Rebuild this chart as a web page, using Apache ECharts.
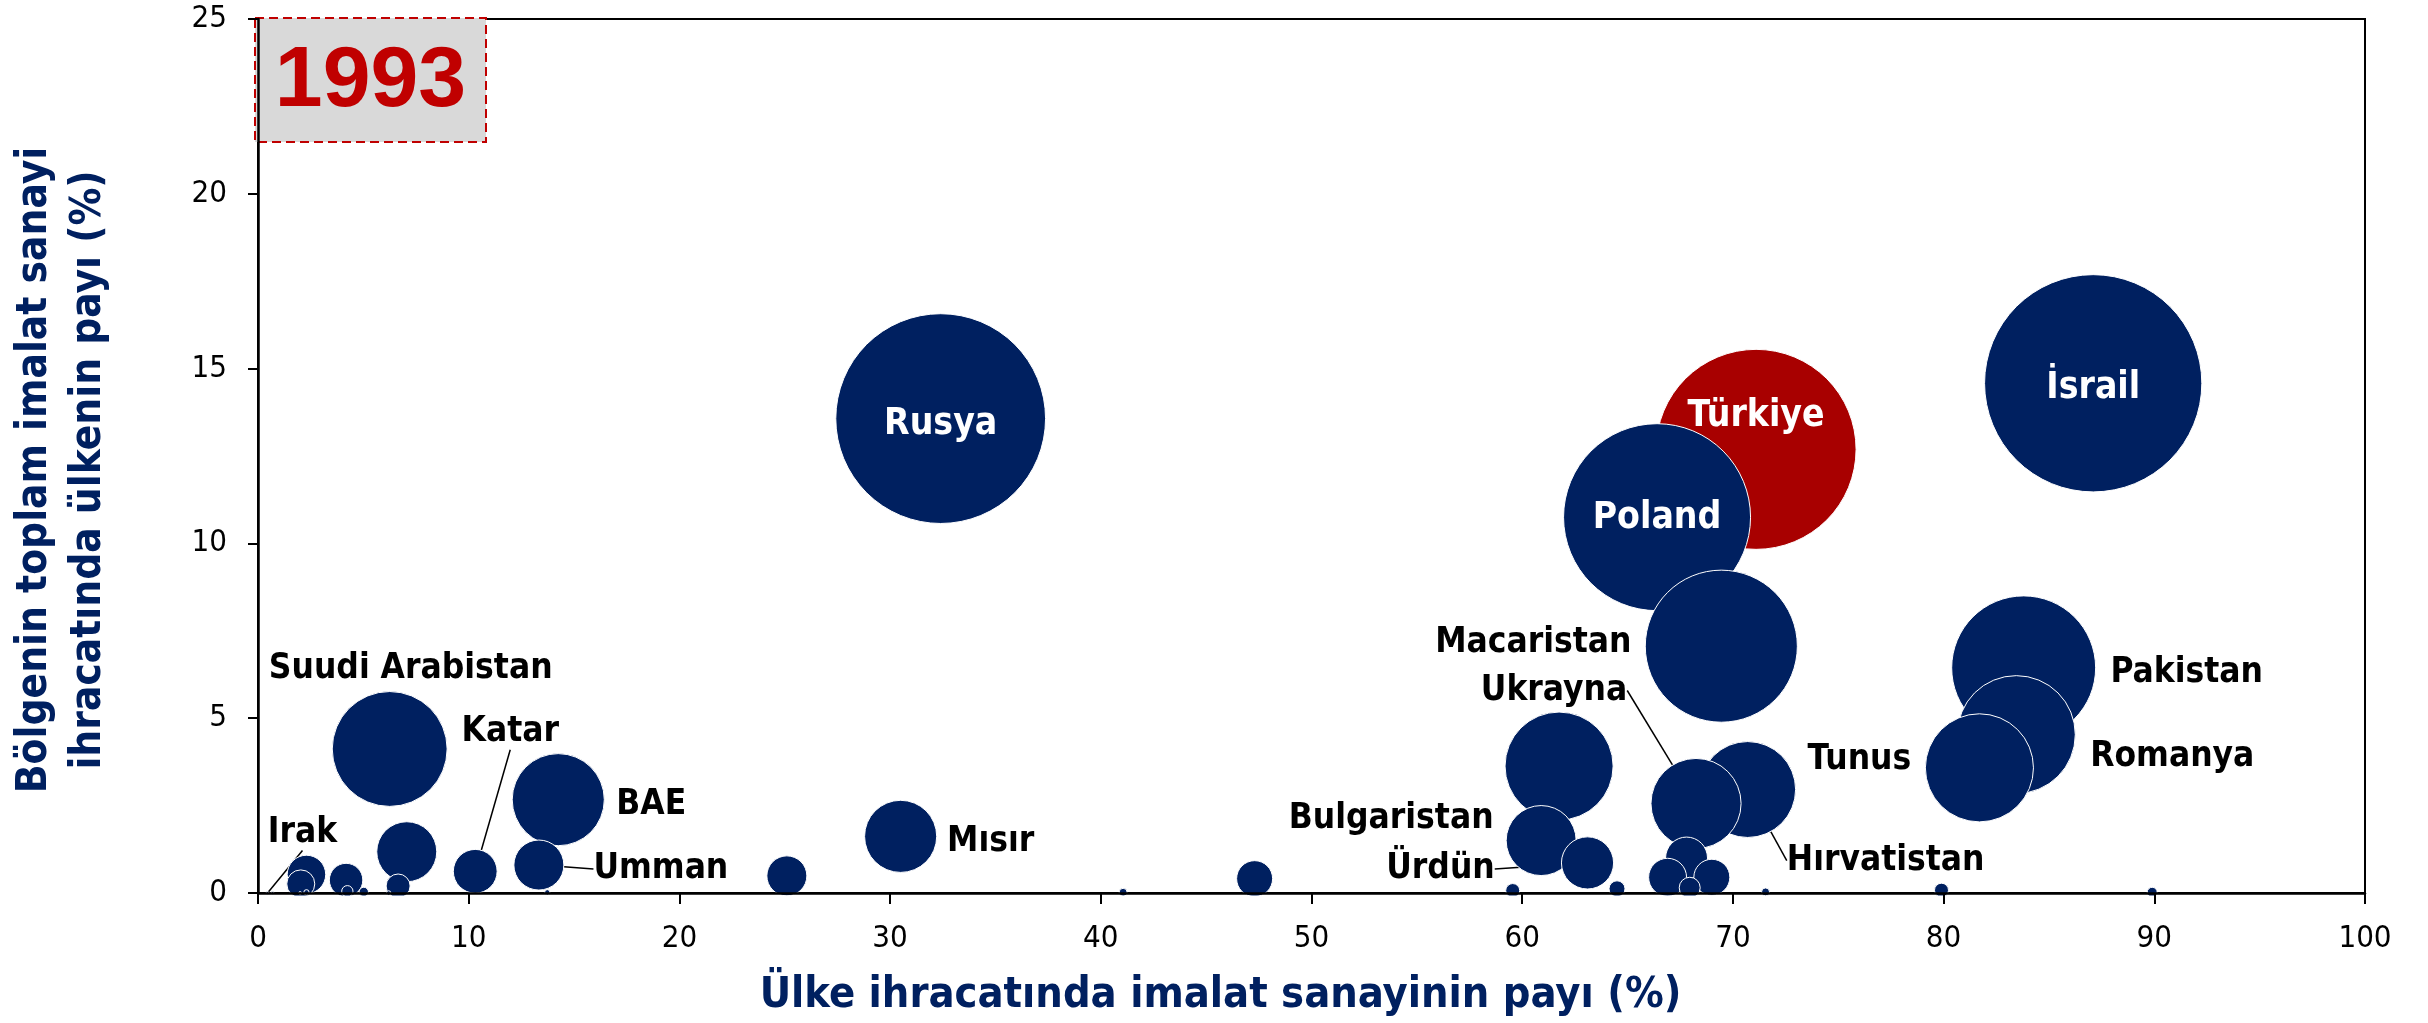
<!DOCTYPE html>
<html>
<head>
<meta charset="utf-8">
<script src="https://cdn.jsdelivr.net/npm/echarts@6/dist/echarts.min.js"></script>
<style>
html,body{margin:0;padding:0;background:#ffffff;}
#chart{width:2428px;height:1023px;}
</style>
</head>
<body>
<div id="chart"></div>
<script>
// ---------------- DATA ----------------
const yearLabel = '1993';
const highlightCountry = 'Türkiye';
const xAxisTitle = 'Ülke ihracatında imalat sanayinin payı (%)';
const yAxisTitle = 'Bölgenin toplam imalat sanayi\nihracatında ülkenin payı (%)';
const xTicks = [0, 10, 20, 30, 40, 50, 60, 70, 80, 90, 100];
const yTicks = [0, 5, 10, 15, 20, 25];

// country names ('' = unlabeled bubble)
const countries = [
  'İsrail', 'Rusya', 'Türkiye', 'Poland', 'Macaristan', 'Pakistan', 'Romanya',
  'Suudi Arabistan', '', 'Tunus', 'Hırvatistan', 'BAE', 'Ukrayna', 'Mısır',
  'Bulgaristan', '', 'Ürdün', 'Umman', 'Katar', '', '', '', '', '', '', '',
  '', '', '', '', '', '', '', '', '', '', '', '', '', '', 'Irak', '', ''
];
// share of manufacturing in the country's exports (%)
const manufShareOfExports = [
  87.1, 32.4, 71.1, 66.4, 69.45, 83.8, 83.45,
  6.25, 61.75, 81.7, 70.7, 14.25, 68.25, 30.5,
  60.9, 7.06, 63.1, 13.33, 10.31, 67.8, 25.1, 2.30, 66.9, 69.0, 47.3, 4.18,
  2.03, 6.65, 67.95, 64.5, 59.55, 79.9, 4.24, 89.9, 5.02, 41.06, 71.55, 2.3, 13.73, 6.2, 0.45, 0.69, 2.0
];
// country's share in the region's total manufacturing exports (%)
const shareOfRegion = [
  14.58, 13.57, 12.69, 10.75, 7.06, 6.44, 4.53,
  4.12, 3.63, 3.58, 2.96, 2.67, 2.56, 1.62,
  1.50, 1.18, 0.86, 0.80, 0.62, 1.00, 0.49, 0.53, 0.45, 0.45, 0.41, 0.37,
  0.26, 0.20, 0.15, 0.12, 0.07, 0.08, 0.05, 0.02, 0.03, 0.02, 0.03, 0.02, 0.02, 0.0, 0.0, 0.0, 0.0
];
// bubble size (manufacturing export volume, relative units)
const exportVolume = [
  11800, 11000, 10000, 8740, 5780, 5180, 3480,
  3300, 2920, 2920, 2300, 2120, 2030, 1300,
  1225, 900, 680, 625, 480, 440, 400, 370, 360, 324, 324, 280,
  196, 144, 110, 64, 49, 49, 32, 25, 22, 16, 16, 7, 7, 5, 2, 2, 2
];

// ---------------- STYLE / LAYOUT ----------------
const NAVY = '#002060';
const RED = '#A80000';
const FONT = '"DejaVu Sans Condensed", "DejaVu Sans", sans-serif';
// label offsets (px, label centre relative to bubble centre), white = inside bubble, line = leader line
const labelPlacement = {
  'İsrail': {dx: 0, dy: 5, white: true},
  'Rusya': {dx: 0, dy: 6, white: true},
  'Türkiye': {dx: 0, dy: -33, white: true},
  'Poland': {dx: 0, dy: 1, white: true},
  'Macaristan': {dx: -188, dy: -3},
  'Pakistan': {dx: 163, dy: 5},
  'Romanya': {dx: 156, dy: 22},
  'Suudi Arabistan': {dx: 21, dy: -80},
  'Tunus': {dx: -120, dy: -8},
  'Hırvatistan': {dx: 138, dy: 71, line: true},
  'BAE': {dx: 93, dy: 5},
  'Ukrayna': {dx: -142, dy: -113, line: true},
  'Mısır': {dx: 90, dy: 6},
  'Bulgaristan': {dx: -150, dy: -22},
  'Ürdün': {dx: -147, dy: 6, line: true},
  'Umman': {dx: 122, dy: 4, line: true},
  'Katar': {dx: 35, dy: -139, line: true},
  'Irak': {dx: 35, dy: -60, line: true}
};

const order = countries.map((_, i) => i).sort((a, b) => exportVolume[b] - exportVolume[a]);
const seriesData = order.map(i => {
  const name = countries[i];
  const place = labelPlacement[name];
  return {
    name: name,
    value: [manufShareOfExports[i], shareOfRegion[i], exportVolume[i]],
    itemStyle: {color: name === highlightCountry ? RED : NAVY},
    label: {
      show: !!name && !!place,
      color: place && place.white ? '#ffffff' : '#000000',
      fontSize: place && place.white ? 37 : 35
    },
    labelLine: {show: !!(place && place.line)}
  };
});
const layoutFor = seriesData.map(d => labelPlacement[d.name] || null);

const chart = echarts.init(document.getElementById('chart'), null, {renderer: 'canvas'});
chart.setOption({
  animation: false,
  backgroundColor: '#ffffff',
  grid: {left: 255, right: 63, top: 19, bottom: 130, show: true, borderColor: '#000', borderWidth: 2, backgroundColor: 'transparent'},
  xAxis: {
    type: 'value', min: xTicks[0], max: xTicks[xTicks.length - 1], interval: xTicks[1] - xTicks[0], z: 10,
    axisLine: {show: true, onZero: false, lineStyle: {color: '#000', width: 2.5}},
    axisTick: {show: true, inside: false, length: 11, lineStyle: {color: '#000', width: 2}},
    axisLabel: {fontFamily: FONT, fontSize: 31, color: '#000', margin: 30},
    splitLine: {show: false},
    name: xAxisTitle, nameLocation: 'middle', nameGap: 81,
    nameTextStyle: {fontFamily: FONT, fontSize: 43, fontWeight: 'bold', color: NAVY, padding: [0, 182, 0, 0]}
  },
  yAxis: {
    type: 'value', min: yTicks[0], max: yTicks[yTicks.length - 1], interval: yTicks[1] - yTicks[0], z: 10,
    axisLine: {show: true, onZero: false, lineStyle: {color: '#000', width: 2.5}},
    axisTick: {show: true, inside: false, length: 10, lineStyle: {color: '#000', width: 2}},
    axisLabel: {fontFamily: FONT, fontSize: 31, color: '#000', margin: 31},
    splitLine: {show: false},
    name: yAxisTitle, nameLocation: 'middle', nameGap: 142, nameRotate: 90,
    nameTextStyle: {fontFamily: FONT, fontSize: 42, lineHeight: 54, fontWeight: 'bold', color: NAVY, align: 'center', padding: [0, 28, 0, 0]}
  },
  graphic: [
    {type: 'rect', z: 5, silent: true, shape: {x: 235, y: 895.5, width: 2150, height: 28}, style: {fill: '#ffffff'}},
    {type: 'rect', z: 6, shape: {x: 255, y: 18, width: 231, height: 124},
     style: {fill: '#D9D9D9', stroke: '#C00000', lineWidth: 2, lineDash: [9, 5]}},
    {type: 'text', z: 7, x: 370.5, y: 82,
     style: {text: yearLabel, fill: '#C00000', font: 'bold 86px "Liberation Sans", Arial, sans-serif', textAlign: 'center', textVerticalAlign: 'middle'}}
  ],
  series: [{
    type: 'scatter',
    z: 2,
    data: seriesData,
    symbol: 'circle',
    symbolSize: v => 2 * Math.sqrt(v[2]),
    itemStyle: {borderColor: '#ffffff', borderWidth: 1, opacity: 1},
    label: {
      show: true, position: 'inside', formatter: p => p.name,
      fontFamily: FONT, fontWeight: 'bold', fontSize: 35
    },
    labelLayout: p => {
      const o = layoutFor[p.dataIndex];
      return o ? {dx: o.dx, dy: o.dy} : {};
    },
    labelLine: {show: false, lineStyle: {color: '#000', width: 1.5}},
    emphasis: {disabled: true},
    silent: true
  }]
});
</script>
</body>
</html>
